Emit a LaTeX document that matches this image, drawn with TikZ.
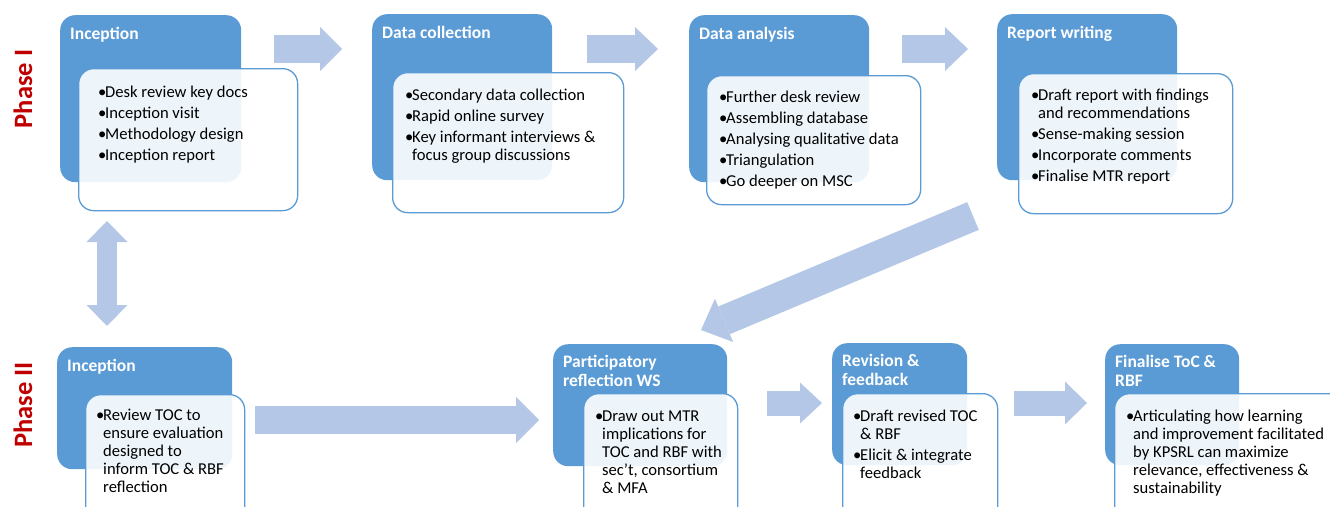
\documentclass[tikz,border=0pt]{standalone}
\usepackage{fontspec}
\setmainfont{Carlito}
\usetikzlibrary{arrows.meta,calc}
\definecolor{kasten}{HTML}{5B9BD5}
\definecolor{pfeil}{HTML}{B4C7E7}
\definecolor{phasenrot}{HTML}{C00000}
\newcommand{\bitem}[1]{\par\setlength{\parskip}{3pt}\hangindent=7pt\hangafter=1\noindent\makebox[7pt][l]{\textbullet}#1}
\newcommand{\liste}[2]{\vtop{\hsize=#1\relax\parindent=0pt #2}}
\newcommand{\zeilen}[2]{\vtop{\hbox{#1}\hbox{#2}}}
\tikzset{
    dunkel/.style={fill=kasten, rounded corners=15pt, anchor=north west, inner sep=0pt},
    hell/.style={draw=kasten, line width=1.3pt, fill=white, fill opacity=0.9, text opacity=1, rounded corners=15pt, anchor=north west, inner sep=0pt},
    titel/.style={anchor=base west, text=white, inner sep=0pt, font=\bfseries\fontsize{17.5}{19.5}\selectfont},
    liste/.style={anchor=base west, inner sep=0pt, font=\fontsize{16.6}{18}\selectfont},
    phase/.style={rotate=90, text=phasenrot, inner sep=0pt, font=\bfseries\fontsize{26.5}{30}\selectfont},
    blockpfeil/.style n args={3}{draw=pfeil, line width=#1, -{Triangle[length=#2, width=#3, line width=0pt]}},
    doppelpfeil/.style n args={3}{draw=pfeil, line width=#1, {Triangle[length=#2, width=#3, line width=0pt]}-{Triangle[length=#2, width=#3, line width=0pt]}}
}
\begin{document}
\begin{tikzpicture}[x=1pt, y=-1pt]
    \path[use as bounding box, clip] (0,0) rectangle (1330,506);
    %Phasen
    \node[phase] (ph1) at (23,89) {Phase I};
    \node[phase] (ph2) at (23,405) {Phase II};

    %Phase I: Kaesten
    \node[dunkel, minimum width=181pt, minimum height=167pt] (inc1) at (60,15) {};
    \node[dunkel, minimum width=180pt, minimum height=166pt] (dc) at (372,14) {};
    \node[dunkel, minimum width=180pt, minimum height=167pt] (da) at (689,15) {};
    \node[dunkel, minimum width=180pt, minimum height=166pt] (rw) at (997,14) {};
    \node[hell, minimum width=219pt, minimum height=142pt] (inc1w) at (78,68) {};
    \node[hell, minimum width=231pt, minimum height=140pt] (dcw) at (392,72) {};
    \node[hell, minimum width=214pt, minimum height=129pt] (daw) at (706,75) {};
    \node[hell, minimum width=214pt, minimum height=140pt] (rww) at (1018,73) {};

    %Phase II: Kaesten
    \node[dunkel, minimum width=175pt, minimum height=122pt] (inc2) at (57,347) {};
    \node[dunkel, minimum width=174pt, minimum height=122pt] (pr) at (553,344) {};
    \node[dunkel, minimum width=135pt, minimum height=122pt] (rev) at (832,343) {};
    \node[dunkel, minimum width=134pt, minimum height=121pt] (fin) at (1105,344) {};
    \node[hell, minimum width=159pt, minimum height=140pt] (inc2w) at (85,394) {};
    \node[hell, minimum width=154pt, minimum height=140pt] (prw) at (583,393) {};
    \node[hell, minimum width=155pt, minimum height=140pt] (revw) at (842,393) {};
    \node[hell, minimum width=240pt, minimum height=140pt] (finw) at (1114,393) {};

    %Titel
    \node[titel] (inc1t) at ($(inc1.north west)+(10,24)$) {Inception};
    \node[titel] (dct) at ($(dc.north west)+(10,24)$) {Data collection};
    \node[titel] (dat) at ($(da.north west)+(10,24)$) {Data analysis};
    \node[titel] (rwt) at ($(rw.north west)+(10,24)$) {Report writing};
    \node[titel] (inc2t) at ($(inc2.north west)+(10,24)$) {Inception};
    \node[titel] (prt) at ($(pr.north west)+(10,23)$) {\zeilen{Participatory}{reflection WS}};
    \node[titel] (revt) at ($(rev.north west)+(10,23)$) {\zeilen{Revision \&}{feedback}};
    \node[titel] (fint) at ($(fin.north west)+(10,23)$) {\zeilen{Finalise ToC \&}{RBF}};

    %Listen
    \node[liste] (inc1l) at ($(inc1w.north west)+(20,29)$) {\liste{210pt}{\bitem{Desk review key docs}\bitem{Inception visit}\bitem{Methodology design}\bitem{Inception report}}};
    \node[liste] (dcl) at ($(dcw.north west)+(13,28)$) {\liste{225pt}{\bitem{Secondary data collection}\bitem{Rapid online survey}\bitem{Key informant interviews \&\newline focus group discussions}}};
    \node[liste] (dal) at ($(daw.north west)+(13,27)$) {\liste{210pt}{\bitem{Further desk review}\bitem{Assembling database}\bitem{Analysing qualitative data}\bitem{Triangulation}\bitem{Go deeper on MSC}}};
    \node[liste] (rwl) at ($(rww.north west)+(13,27)$) {\liste{210pt}{\bitem{Draft report with findings\newline and recommendations}\bitem{Sense-making session}\bitem{Incorporate comments}\bitem{Finalise MTR report}}};
    \node[liste] (inc2l) at ($(inc2w.north west)+(11,26)$) {\liste{160pt}{\bitem{Review TOC to\newline ensure evaluation\newline designed to\newline inform TOC \& RBF\newline reflection}}};
    \node[liste] (prl) at ($(prw.north west)+(12,28)$) {\liste{160pt}{\bitem{Draw out MTR\newline implications for\newline TOC and RBF with\newline sec’t, consortium\newline \& MFA}}};
    \node[liste] (revl) at ($(revw.north west)+(11,28)$) {\liste{160pt}{\bitem{Draft revised TOC\newline \& RBF}\bitem{Elicit \& integrate\newline feedback}}};
    \node[liste] (finl) at ($(finw.north west)+(12,28)$) {\liste{230pt}{\bitem{Articulating how learning\newline and improvement facilitated\newline by KPSRL can maximize\newline relevance, effectiveness \&\newline sustainability}}};

    %Pfeile
    \coordinate (a1) at (274,49);  \coordinate (b1) at (342,49);
    \coordinate (a2) at (587,49);  \coordinate (b2) at (658,49);
    \coordinate (a3) at (902,49);  \coordinate (b3) at (968,49);
    \coordinate (a4) at (973,216); \coordinate (b4) at (701,330);
    \coordinate (a5) at (107,221); \coordinate (b5) at (107,326);
    \coordinate (a6) at (255,420); \coordinate (b6) at (539,420);
    \coordinate (a7) at (767,403); \coordinate (b7) at (822,403);
    \coordinate (a8) at (1014,403);\coordinate (b8) at (1087,403);
    \draw[blockpfeil={28pt}{22pt}{44pt}] (a1) -- (b1);
    \draw[blockpfeil={28pt}{23pt}{44pt}] (a2) -- (b2);
    \draw[blockpfeil={28pt}{23pt}{44pt}] (a3) -- (b3);
    \draw[blockpfeil={30pt}{25pt}{47pt}] (a4) -- (b4);
    \draw[doppelpfeil={20pt}{21pt}{41pt}] (a5) -- (b5);
    \draw[blockpfeil={28pt}{23pt}{46pt}] (a6) -- (b6);
    \draw[blockpfeil={25pt}{22pt}{41pt}] (a7) -- (b7);
    \draw[blockpfeil={25pt}{22pt}{43pt}] (a8) -- (b8);
\end{tikzpicture}
\end{document}
